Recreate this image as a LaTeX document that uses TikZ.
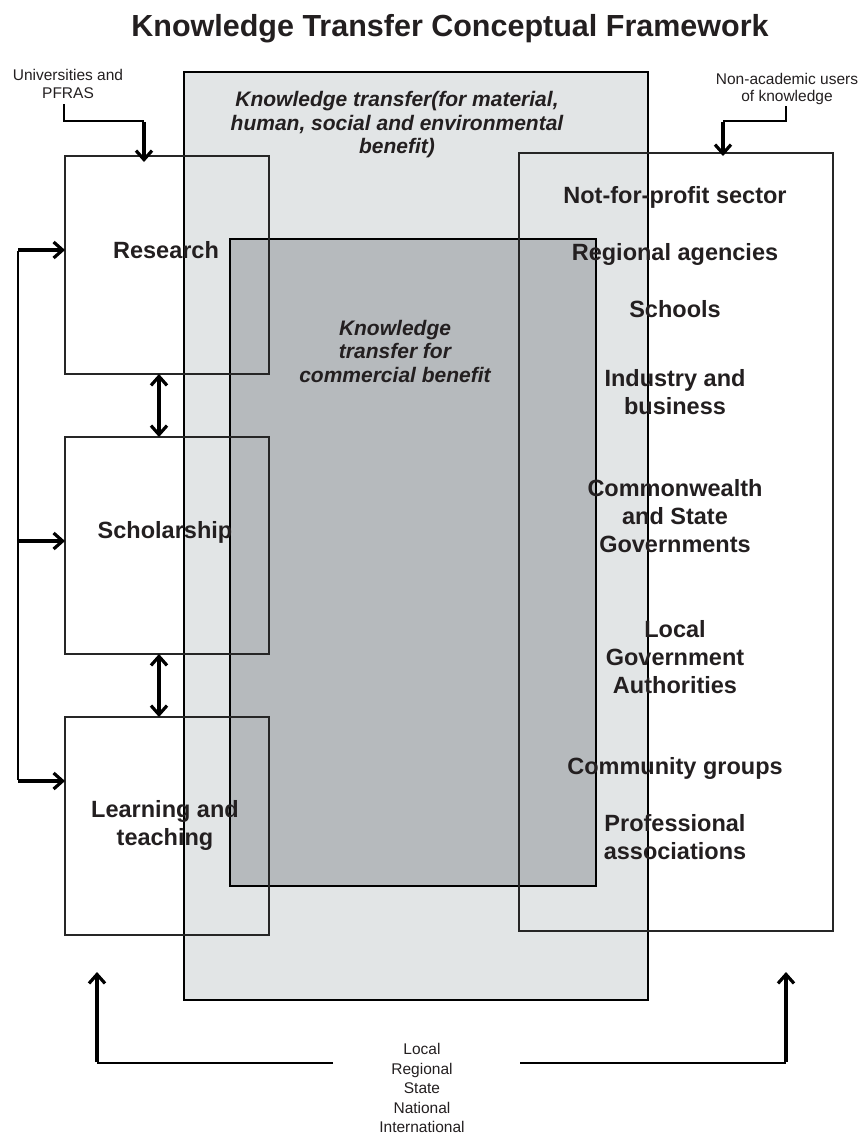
\documentclass[tikz,border=0pt]{standalone}
\usepackage{fontspec}
\setmainfont{Liberation Sans}
\usetikzlibrary{arrows.meta}
\definecolor{ink}{HTML}{231F20}
\definecolor{paleband}{HTML}{E2E5E6}
\definecolor{darkband}{HTML}{B6BABD}

\begin{document}
\begin{tikzpicture}[x=1pt,y=-1pt,
  every node/.style={inner sep=0pt, outer sep=0pt, text=ink, align=center},
  area/.style={anchor=north west, draw=black, line width=2.4pt},
  frame/.style={anchor=north west, draw=black!85, line width=1.5pt},
  lbl/.style={font=\fontsize{23.5}{28}\selectfont\bfseries},
  ital/.style={font=\fontsize{21}{23.5}\selectfont\bfseries\itshape},
  small/.style={font=\fontsize{15.5}{17.5}\selectfont},
  levelsfont/.style={font=\fontsize{15.5}{19.5}\selectfont},
  thinlink/.style={draw=black, line width=2pt},
  heavy/.style={draw=black, line width=3.2pt},
  barb/.style={-{Straight Barb[length=9pt,width=16pt,line width=3.2pt]}},
  dbarb/.style={{Straight Barb[length=9pt,width=16pt,line width=3.2pt]}-{Straight Barb[length=9pt,width=16pt,line width=3.2pt]}},
]
\useasboundingbox (0,0) rectangle (866,1136);

% title
\node[font=\fontsize{30.5}{34}\selectfont\bfseries] (title) at (450,29) {Knowledge Transfer Conceptual Framework};

% shaded areas
\node[area, fill=paleband, minimum width=464pt, minimum height=928pt] (kt) at (184,72) {};
\node[area, fill=darkband, line width=2.7pt, minimum width=366pt, minimum height=647pt] (kc) at (230,239) {};

% outline boxes
\node[frame, minimum width=204pt, minimum height=218pt] (research) at (65,156) {};
\node[frame, minimum width=204pt, minimum height=217pt] (scholar) at (65,437) {};
\node[frame, minimum width=204pt, minimum height=218pt] (learning) at (65,717) {};
\node[frame, minimum width=314pt, minimum height=778pt] (users) at (519,153) {};

% area texts
\node[ital] (kttext) at (397,125) {Knowledge transfer(for material,\\human, social and environmental\\benefit)};
\node[ital] (kctext) at (395,351) {Knowledge\\transfer for\\commercial benefit};

% academic activities
\node[lbl] (researchtxt) at (166,250) {Research};
\node[lbl] (scholartxt) at (165,532) {Scholarship};
\node[lbl] (learningtxt) at (165,825) {Learning and\\teaching};

% users of knowledge
\node[lbl] (u1) at (675,197) {Not-for-profit sector};
\node[lbl] (u2) at (675,254) {Regional agencies};
\node[lbl] (u3) at (675,309) {Schools};
\node[lbl] (u4) at (675,392) {Industry and\\business};
\node[lbl] (u5) at (675,516) {Commonwealth\\and State\\Governments};
\node[lbl] (u6) at (675,657) {Local\\Government\\Authorities};
\node[lbl] (u7) at (675,768) {Community groups};
\node[lbl] (u8) at (675,837) {Professional\\associations};

% source labels
\node[small] (univ) at (68,84) {Universities and\\PFRAS};
\node[small] (nonacad) at (787,89) {Non-academic users\\of knowledge};
\node[levelsfont] (levels) at (422,1088) {Local\\Regional\\State\\National\\International};

% helper coordinates
\coordinate (ua) at (64,104);
\coordinate (ub) at (144,121);
\coordinate (na) at (786,106);
\coordinate (nb) at (723,121);
\coordinate (dx) at (159,0);
\coordinate (loopT) at (18,250);
\coordinate (loopM) at (18,541);
\coordinate (loopB) at (18,781);
\coordinate (bl1) at (333,1063);
\coordinate (bl2) at (97,1063);
\coordinate (bl3) at (97,972);
\coordinate (br1) at (520,1063);
\coordinate (br2) at (786,1063);
\coordinate (br3) at (786,972);

% inputs from the top
\draw[thinlink, line join=miter] (ua) |- (ub);
\draw[heavy, barb] ([yshift=-1pt]ub) -- ([yshift=-6pt]research.north -| ub);
\draw[thinlink, line join=miter] (na) |- (nb);
\draw[heavy, barb] ([yshift=-1pt]nb) -- ([yshift=-3pt]users.north -| nb);

% feedback loop on the left
\draw[heavy, line width=2.8pt] ([yshift=1.4pt]loopB) -- ([yshift=-1.4pt]loopT);
\draw[heavy, barb] (loopT) -- (loopT -| research.west);
\draw[heavy, barb] (loopM) -- (loopM -| scholar.west);
\draw[heavy, barb] (loopB) -- (loopB -| learning.west);

% links between activities
\draw[heavy, dbarb] (research.south -| dx) -- (scholar.north -| dx);
\draw[heavy, dbarb] (scholar.south -| dx) -- (learning.north -| dx);

% scale of engagement
\draw[thinlink] (bl1) -- (bl2);
\draw[heavy, barb] ([yshift=1pt]bl2) -- (bl3);
\draw[thinlink] (br1) -- (br2);
\draw[heavy, barb] ([yshift=1pt]br2) -- (br3);
\end{tikzpicture}
\end{document}
